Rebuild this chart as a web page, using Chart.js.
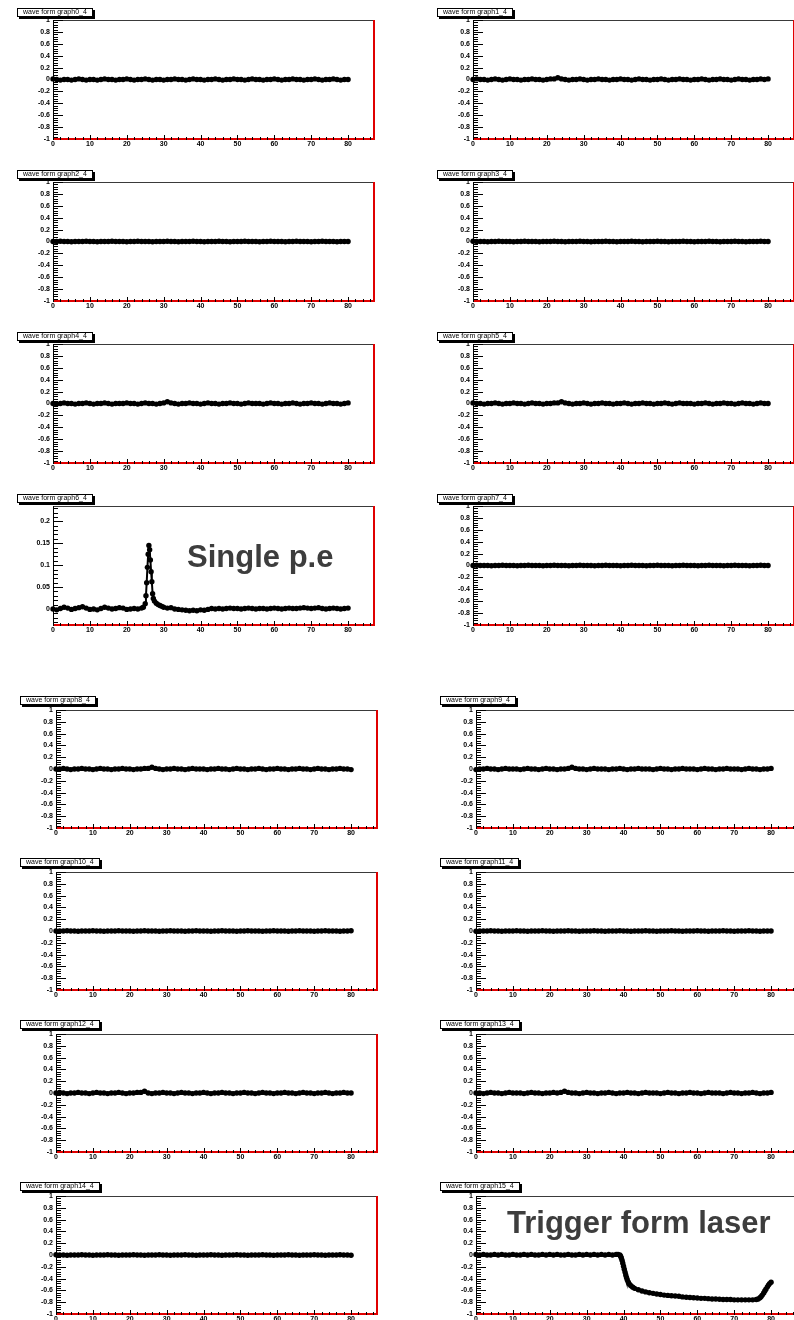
<!DOCTYPE html>
<html>
<head>
<meta charset="utf-8">
<script src="https://cdn.jsdelivr.net/npm/chart.js@4.4.1/dist/chart.umd.min.js"></script>
<style>
  html, body { margin: 0; padding: 0; background: #fff; }
  #page { position: relative; width: 794px; height: 1320px; overflow: hidden; background: #fff; }
  canvas.pad { position: absolute; }
  .ttl {
    position: absolute; height: 7px; border: 1px solid #000; background: #fff;
    box-shadow: 2px 2px 0 #000; font: 7px/6px "Liberation Sans", Arial, sans-serif;
    padding: 0 5px; white-space: nowrap; color: #000; overflow: visible;
    will-change: transform; transform: translateZ(0);
  }
  .note {
    position: absolute; font: bold 31px/31px "Liberation Sans", Arial, sans-serif;
    color: #3d3d3d; white-space: nowrap;
  }
</style>
</head>
<body>
<div id="page"></div>
<script>
// ---- sample times (ns) ----
const t1ns = [
  0,1,2,3,4,5,6,7,8,9,
  10,11,12,13,14,15,16,17,18,19,
  20,21,22,23,24,25,26,27,28,29,
  30,31,32,33,34,35,36,37,38,39,
  40,41,42,43,44,45,46,47,48,49,
  50,51,52,53,54,55,56,57,58,59,
  60,61,62,63,64,65,66,67,68,69,
  70,71,72,73,74,75,76,77,78,79,
  80
];

// ---- tick labels ----
const xTicks = [0, 10, 20, 30, 40, 50, 60, 70, 80];
const yTicksFull = [-1, -0.8, -0.6, -0.4, -0.2, 0, 0.2, 0.4, 0.6, 0.8, 1];
const yTicksSpe = [0, 0.05, 0.1, 0.15, 0.2];

// ---- channel amplitudes (V) ----
const wf0 = [
  0.01,0,-0.01,0,0,-0.01,0,0.01,0,-0.01,
  0,0,-0.01,0,0.01,0,0,-0.01,0,0,
  0.01,0,-0.01,0,0,0.01,0,-0.01,0,0,
  -0.01,0,0,0.01,0,0,-0.01,0,0.01,0,
  0,-0.01,0,0,0.01,0,-0.01,0,0,0.01,
  0,0,-0.01,0,0.01,0,0,-0.01,0,0,
  0.01,0,-0.01,0,0,0.01,0,0,-0.01,0,
  0,0.01,0,-0.01,0,0,0.01,0,-0.01,0,
  0
];
const wf1 = [
  0,0.01,0,0,-0.01,0,0.01,0,-0.01,0,
  0.01,0,0,-0.01,0,0,0.01,0,0,-0.01,
  0,0.01,0.01,0.03,0.01,0,-0.01,0,0,0.01,
  0,-0.01,0,0,0.01,0,0,-0.01,0,0,
  0.01,0,0,-0.01,0,0.01,0,0,-0.01,0,
  0,0.01,0,-0.01,0,0,0.01,0,0,-0.01,
  0,0,0.01,0,-0.01,0,0,0.01,0,0,
  -0.01,0,0.01,0,0,-0.01,0,0,0.01,0,
  0.01
];
const wf2 = [
  0,0,0.005,0,0,-0.005,0,0,0,0.005,
  0,0,-0.005,0,0,0,0.005,0,0,0,
  -0.005,0,0,0.005,0,0,0,-0.005,0,0,
  0,0.005,0,0,-0.005,0,0,0,0.005,0,
  0,-0.005,0,0,0,0.005,0,0,-0.005,0,
  0,0,0.005,0,0,0,-0.005,0,0,0.005,
  0,0,0,-0.005,0,0,0.005,0,0,0,
  -0.005,0,0,0.005,0,0,0,-0.005,0,0,
  0
];
const wf3 = [
  0.005,0,0,0,-0.005,0,0,0.005,0,0,
  0,-0.005,0,0,0.005,0,0,0,-0.005,0,
  0,0,0.005,0,0,-0.005,0,0,0,0.005,
  0,0,-0.005,0,0,0,0.005,0,0,-0.005,
  0,0,0,0.005,0,0,-0.005,0,0,0,
  0.005,0,0,-0.005,0,0,0,0.005,0,0,
  -0.005,0,0,0,0.005,0,0,-0.005,0,0,
  0,0.005,0,0,-0.005,0,0,0,0.005,0,
  0
];
const wf4 = [
  0,-0.01,0,0.01,0,0,-0.01,0,0,0.01,
  0,-0.01,0,0,0.01,0,-0.01,0,0,0,
  0.01,0,0,-0.01,0,0.01,0,0,-0.01,0,
  0.01,0.03,0.01,0,-0.01,0,0,0.01,0,0,
  -0.01,0,0.01,0,0,-0.01,0,0,0.01,0,
  0,-0.01,0,0.01,0,0,0,-0.01,0,0.01,
  0,0,-0.01,0,0,0.01,0,-0.01,0,0,
  0.01,0,0,-0.01,0,0.01,0,0,-0.01,0,
  0.01
];
const wf5 = [
  0.01,0,0,-0.01,0,0,0.01,0,-0.01,0,
  0,0.01,0,0,-0.01,0,0.01,0,0,-0.01,
  0,0,0.01,0.01,0.03,0.01,0,-0.01,0,0,
  0.01,0,-0.01,0,0,0.01,0,0,-0.01,0,
  0,0.01,0,-0.01,0,0,0.01,0,0,-0.01,
  0,0,0.01,0,-0.01,0,0.01,0,0,0,
  -0.01,0,0,0.01,0,-0.01,0,0,0.01,0,
  0,-0.01,0,0.01,0,0,-0.01,0,0.01,0,
  0
];
// single photo-electron pulse, finer sampling around the peak
const t6 = [
  0,1,2,3,4,5,6,7,8,9,
  10,11,12,13,14,15,16,17,18,19,
  20,21,22,23,24,24.5,25,25.2,25.4,25.6,
  25.8,26,26.2,26.4,26.6,26.8,27,27.2,27.5,28,
  28.5,29,29.5,30,31,32,33,34,35,36,
  37,38,39,40,41,42,43,44,45,46,
  47,48,49,50,51,52,53,54,55,56,
  57,58,59,60,61,62,63,64,65,66,
  67,68,69,70,71,72,73,74,75,76,
  77,78,79,80
];
const wf6 = [
  0,-0.002,0.001,0.004,0.002,-0.001,0.001,0.003,0.005,0.002,
  -0.001,0,-0.002,0.001,0.004,0.002,0,0.001,0.003,0.002,
  -0.001,0,0.001,0,0.002,0.004,0.012,0.03,0.06,0.095,
  0.125,0.145,0.135,0.112,0.085,0.062,0.035,0.024,0.018,0.013,
  0.01,0.008,0.006,0.004,0.002,0.003,0,-0.001,-0.002,-0.003,
  -0.004,-0.003,-0.004,-0.002,-0.003,-0.001,0.001,0,0.001,0,
  0.001,0.002,0.001,0.001,0,0.001,0.002,0.001,0,0.001,
  0.001,0,0.001,0.002,0.001,0,0.001,0.002,0.001,0.001,
  0.002,0.003,0.002,0.001,0.002,0.003,0.001,0,0.001,0.002,
  0.001,0,0.001,0.002
];
const wf7 = [
  0,0.005,0,0,0,-0.005,0,0,0.005,0,
  0,0,-0.005,0,0,0.005,0,0,0,-0.005,
  0,0,0.005,0,0,0,-0.005,0,0,0.005,
  0,0,0,-0.005,0,0,0.005,0,0,0,
  -0.005,0,0,0.005,0,0,0,-0.005,0,0,
  0.005,0,0,0,-0.005,0,0,0.005,0,0,
  0,-0.005,0,0,0.005,0,0,0,-0.005,0,
  0,0.005,0,0,0,-0.005,0,0,0.005,0,
  0
];
const wf8 = [
  0,0,0.01,0,-0.01,0,0,0.01,0,0,
  -0.01,0,0.01,0,0,-0.01,0,0,0.01,0,
  0,-0.01,0,0,0.01,0.01,0.03,0.01,0,-0.01,
  0,0,0.01,0,0,-0.01,0,0.01,0,0,
  0,-0.01,0,0,0.01,0,0,-0.01,0,0.01,
  0,0,-0.01,0,0,0.01,0,-0.01,0,0,
  0.01,0,0,-0.01,0,0,0.01,0,0,-0.01,
  0,0.01,0,0,-0.01,0,0,0.01,0,0,
  -0.01
];
const wf9 = [
  -0.01,0,0,0.01,0,0,-0.01,0,0.01,0,
  0,0,-0.01,0,0.01,0,0,-0.01,0,0.01,
  0,0,-0.01,0,0,0.01,0.03,0.01,0,0,
  -0.01,0,0.01,0,0,0,-0.01,0,0,0.01,
  0,-0.01,0,0,0.01,0,0,0,-0.01,0,
  0.01,0,0,-0.01,0,0,0.01,0,0,0,
  -0.01,0,0.01,0,0,-0.01,0,0,0.01,0,
  0,0,-0.01,0,0.01,0,0,-0.01,0,0,
  0.01
];
const wf10 = [
  0,0,0,0.005,0,0,-0.005,0,0,0,
  0.005,0,0,-0.005,0,0,0,0.005,0,0,
  0,-0.005,0,0,0.005,0,0,0,-0.005,0,
  0,0.005,0,0,0,-0.005,0,0,0.005,0,
  0,0,-0.005,0,0,0.005,0,0,0,-0.005,
  0,0,0.005,0,0,0,-0.005,0,0,0.005,
  0,0,0,-0.005,0,0,0.005,0,0,0,
  -0.005,0,0,0.005,0,0,0,-0.005,0,0,
  0.005
];
const wf11 = [
  -0.005,0,0,0,0.005,0,0,-0.005,0,0,
  0,0.005,0,0,-0.005,0,0,0,0.005,0,
  0,-0.005,0,0,0,0.005,0,0,-0.005,0,
  0,0,0.005,0,0,-0.005,0,0,0,0.005,
  0,0,-0.005,0,0,0,0.005,0,0,-0.005,
  0,0,0,0.005,0,0,-0.005,0,0,0,
  0.005,0,0,-0.005,0,0,0,0.005,0,0,
  -0.005,0,0,0,0.005,0,0,-0.005,0,0,
  0
];
const wf12 = [
  0,0.01,0,-0.01,0,0,0.01,0,0,-0.01,
  0,0.01,0,0,-0.01,0,0,0.01,0,-0.01,
  0,0,0.01,0.01,0.03,0,-0.01,0,0,0.01,
  0,0,-0.01,0,0.01,0,0,-0.01,0,0,
  0.01,0,-0.01,0,0,0.01,0,0,-0.01,0,
  0,0.01,0,0,-0.01,0,0.01,0,0,-0.01,
  0,0,0.01,0,0,-0.01,0,0.01,0,0,
  -0.01,0,0,0.01,0,-0.01,0,0,0.01,0,
  0
];
const wf13 = [
  0,0,-0.01,0,0.01,0,0,-0.01,0,0.01,
  0,0,0,-0.01,0,0.01,0,0,-0.01,0,
  0,0.01,0,0.01,0.03,0.01,0,0,-0.01,0,
  0.01,0,0,-0.01,0,0,0.01,0,-0.01,0,
  0,0.01,0,0,-0.01,0,0.01,0,0,0,
  -0.01,0,0.01,0,0,-0.01,0,0,0.01,0,
  0,-0.01,0,0.01,0,0,0,-0.01,0,0.01,
  0,0,-0.01,0,0,0.01,0,-0.01,0,0,
  0.01
];
const wf14 = [
  0.005,0,0,-0.005,0,0,0,0.005,0,0,
  -0.005,0,0,0,0.005,0,0,-0.005,0,0,
  0,0.005,0,0,-0.005,0,0,0,0.005,0,
  0,-0.005,0,0,0,0.005,0,0,-0.005,0,
  0,0,0.005,0,0,-0.005,0,0,0,0.005,
  0,0,-0.005,0,0,0,0.005,0,0,-0.005,
  0,0,0,0.005,0,0,-0.005,0,0,0,
  0.005,0,0,-0.005,0,0,0,0.005,0,0,
  -0.005
];
// laser trigger pulse, finer sampling on the edges
const t15 = [
  0,1,2,3,4,5,6,7,8,9,
  10,11,12,13,14,15,16,17,18,19,
  20,21,22,23,24,25,26,27,28,29,
  30,31,32,33,34,35,36,37,38,38.5,
  39,39.2,39.4,39.6,39.8,40,40.2,40.4,40.6,40.8,
  41,41.3,41.6,42,42.5,43,44,45,46,47,
  48,49,50,51,52,53,54,55,56,57,
  58,59,60,61,62,63,64,65,66,67,
  68,69,70,71,72,73,74,75,76,76.5,
  77,77.3,77.6,78,78.3,78.6,79,79.3,79.6,80
];
const wf15 = [
  0.01,0,0.01,0,0,0.01,0,0.01,0,0,
  0.01,0,0,0.01,0,0.01,0,0,0.01,0,
  0.01,0,0.01,0,0,0.01,0,0,0.01,0,
  0.01,0,0.01,0,0.01,0,0.01,0,0.01,0.01,
  0,-0.02,-0.05,-0.09,-0.14,-0.19,-0.24,-0.29,-0.34,-0.38,
  -0.42,-0.46,-0.495,-0.52,-0.545,-0.565,-0.59,-0.61,-0.625,-0.64,
  -0.65,-0.66,-0.67,-0.68,-0.685,-0.69,-0.695,-0.7,-0.71,-0.715,
  -0.72,-0.725,-0.73,-0.735,-0.735,-0.74,-0.745,-0.745,-0.75,-0.755,
  -0.755,-0.755,-0.76,-0.76,-0.76,-0.76,-0.76,-0.76,-0.755,-0.745,
  -0.725,-0.705,-0.68,-0.645,-0.61,-0.58,-0.54,-0.51,-0.485,-0.46
];

// ---- pad descriptions ----
const FULL = { min: -1, max: 1, ticks: yTicksFull, major: 0.2, minor: 0.04 };
const SPE  = { min: -0.0366, max: 0.235, ticks: yTicksSpe, major: 0.05, minor: 0.01 };

const pads = [
  { title: 'wave form graph0_4',  t: t1ns, v: wf0,  y: FULL },
  { title: 'wave form graph1_4',  t: t1ns, v: wf1,  y: FULL },
  { title: 'wave form graph2_4',  t: t1ns, v: wf2,  y: FULL },
  { title: 'wave form graph3_4',  t: t1ns, v: wf3,  y: FULL },
  { title: 'wave form graph4_4',  t: t1ns, v: wf4,  y: FULL },
  { title: 'wave form graph5_4',  t: t1ns, v: wf5,  y: FULL },
  { title: 'wave form graph6_4',  t: t6,   v: wf6,  y: SPE, line: 2, note: 'Single p.e', noteAt: [187, 541] },
  { title: 'wave form graph7_4',  t: t1ns, v: wf7,  y: FULL },
  { title: 'wave form graph8_4',  t: t1ns, v: wf8,  y: FULL },
  { title: 'wave form graph9_4',  t: t1ns, v: wf9,  y: FULL },
  { title: 'wave form graph10_4', t: t1ns, v: wf10, y: FULL },
  { title: 'wave form graph11_4', t: t1ns, v: wf11, y: FULL },
  { title: 'wave form graph12_4', t: t1ns, v: wf12, y: FULL },
  { title: 'wave form graph13_4', t: t1ns, v: wf13, y: FULL },
  { title: 'wave form graph14_4', t: t1ns, v: wf14, y: FULL },
  { title: 'wave form graph15_4', t: t15,  v: wf15, y: FULL, note: 'Trigger form laser', noteAt: [507, 1207] }
];

// ---- layout constants ----
const FRAME_W = 322;
const X_MAX = 87.3;
const X_MAJOR = 10, X_MINOR = 2;
const AX_W = 44, AX_H = 14, PAD_T = 3, PAD_R = 3;

// frame, tick marks and red frame edges in the ROOT style
const rootFrame = {
  id: 'rootFrame',
  beforeDatasetsDraw(chart) {
    const { ctx, chartArea: a, scales: { x, y } } = chart;
    const ycfg = chart.options.plugins.rootFrame;
    ctx.save();
    ctx.lineCap = 'butt';

    // top edge
    ctx.strokeStyle = '#3a3a3a';
    ctx.lineWidth = 1;
    ctx.beginPath();
    ctx.moveTo(a.left, a.top + 0.5);
    ctx.lineTo(a.right, a.top + 0.5);
    ctx.stroke();

    // y axis line and ticks (drawn inwards)
    ctx.strokeStyle = '#000';
    ctx.beginPath();
    ctx.moveTo(a.left + 0.5, a.top);
    ctx.lineTo(a.left + 0.5, a.bottom);
    const k0 = Math.ceil(ycfg.min / ycfg.minor - 1e-6);
    const k1 = Math.floor(ycfg.max / ycfg.minor + 1e-6);
    for (let k = k0; k <= k1; k++) {
      const v = k * ycfg.minor;
      const r = v / ycfg.major;
      const major = Math.abs(r - Math.round(r)) < 1e-6;
      const py = Math.round(y.getPixelForValue(v)) + 0.5;
      ctx.moveTo(a.left, py);
      ctx.lineTo(a.left + (major ? 10 : 5), py);
    }
    ctx.stroke();

    // red bottom and right edges
    ctx.strokeStyle = '#e00000';
    ctx.lineWidth = 2;
    ctx.beginPath();
    ctx.moveTo(a.left, a.bottom);
    ctx.lineTo(a.right, a.bottom);
    ctx.moveTo(a.right - 1, a.top);
    ctx.lineTo(a.right - 1, a.bottom + 1);
    ctx.stroke();

    // x ticks (pointing up)
    ctx.strokeStyle = '#000';
    ctx.lineWidth = 1;
    ctx.beginPath();
    for (let k = 0; k * X_MINOR <= X_MAX + 1e-6; k++) {
      const v = k * X_MINOR;
      const major = v % X_MAJOR === 0;
      const px = Math.round(x.getPixelForValue(v)) + 0.5;
      ctx.moveTo(px, a.bottom + 1);
      ctx.lineTo(px, a.bottom - (major ? 4 : 2));
    }
    ctx.stroke();
    ctx.restore();
  }
};

const fmt = v => (Math.abs(v) < 1e-9 ? '0' : String(parseFloat(Number(v).toFixed(3))));
const tickFont = { family: 'Liberation Sans', size: 7, weight: 'bold' };

const page = document.getElementById('page');

pads.forEach((p, i) => {
  const col = i % 2, row = Math.floor(i / 2);
  const lower = row >= 4;
  const frameTop = lower ? 710 + 162 * (row - 4) : 20 + 162 * row;
  const frameH = lower ? 118 : 119;
  const frameLeft = (col ? 473 : 53) + (lower ? 3 : 0);

  const cv = document.createElement('canvas');
  cv.className = 'pad';
  cv.width = AX_W + FRAME_W + PAD_R;
  cv.height = PAD_T + frameH + AX_H;
  cv.style.left = (frameLeft - AX_W) + 'px';
  cv.style.top = (frameTop - PAD_T) + 'px';
  page.appendChild(cv);

  const ttl = document.createElement('div');
  ttl.className = 'ttl';
  ttl.textContent = p.title;
  ttl.style.left = (frameLeft - 36) + 'px';
  ttl.style.top = (frameTop - (lower ? 14 : 12)) + 'px';
  page.appendChild(ttl);

  new Chart(cv, {
    type: 'scatter',
    data: {
      datasets: [{
        data: p.t.map((tx, k) => ({ x: tx, y: p.v[k] })),
        showLine: true,
        borderColor: '#000',
        borderWidth: p.line || 3.5,
        pointRadius: 2.7,
        pointHoverRadius: 2.7,
        pointBackgroundColor: '#000',
        pointBorderWidth: 0,
        clip: false
      }]
    },
    options: {
      responsive: false,
      animation: false,
      devicePixelRatio: 1,
      events: [],
      layout: { padding: { left: 0, top: PAD_T, right: PAD_R, bottom: 0 } },
      plugins: {
        legend: { display: false },
        tooltip: { enabled: false },
        title: { display: false },
        rootFrame: p.y
      },
      scales: {
        x: {
          type: 'linear', min: 0, max: X_MAX,
          grid: { display: false, drawTicks: false },
          border: { display: false },
          afterBuildTicks: s => { s.ticks = xTicks.map(v => ({ value: v })); },
          afterFit: s => { s.height = AX_H; s.paddingLeft = 0; s.paddingRight = 0; },
          ticks: { autoSkip: false, maxRotation: 0, minRotation: 0, padding: 1,
                   color: '#000', font: tickFont, callback: v => fmt(v) }
        },
        y: {
          type: 'linear', min: p.y.min, max: p.y.max,
          grid: { display: false, drawTicks: false },
          border: { display: false },
          afterBuildTicks: s => { s.ticks = p.y.ticks.map(v => ({ value: v })); },
          afterFit: s => { s.width = AX_W; s.paddingTop = 0; s.paddingBottom = 0; },
          ticks: { autoSkip: false, padding: 3, color: '#000', font: tickFont,
                   callback: v => fmt(v) }
        }
      }
    },
    plugins: [rootFrame]
  });

  if (p.note) {
    const n = document.createElement('div');
    n.className = 'note';
    n.textContent = p.note;
    n.style.left = p.noteAt[0] + 'px';
    n.style.top = p.noteAt[1] + 'px';
    page.appendChild(n);
  }
});
</script>
</body>
</html>
